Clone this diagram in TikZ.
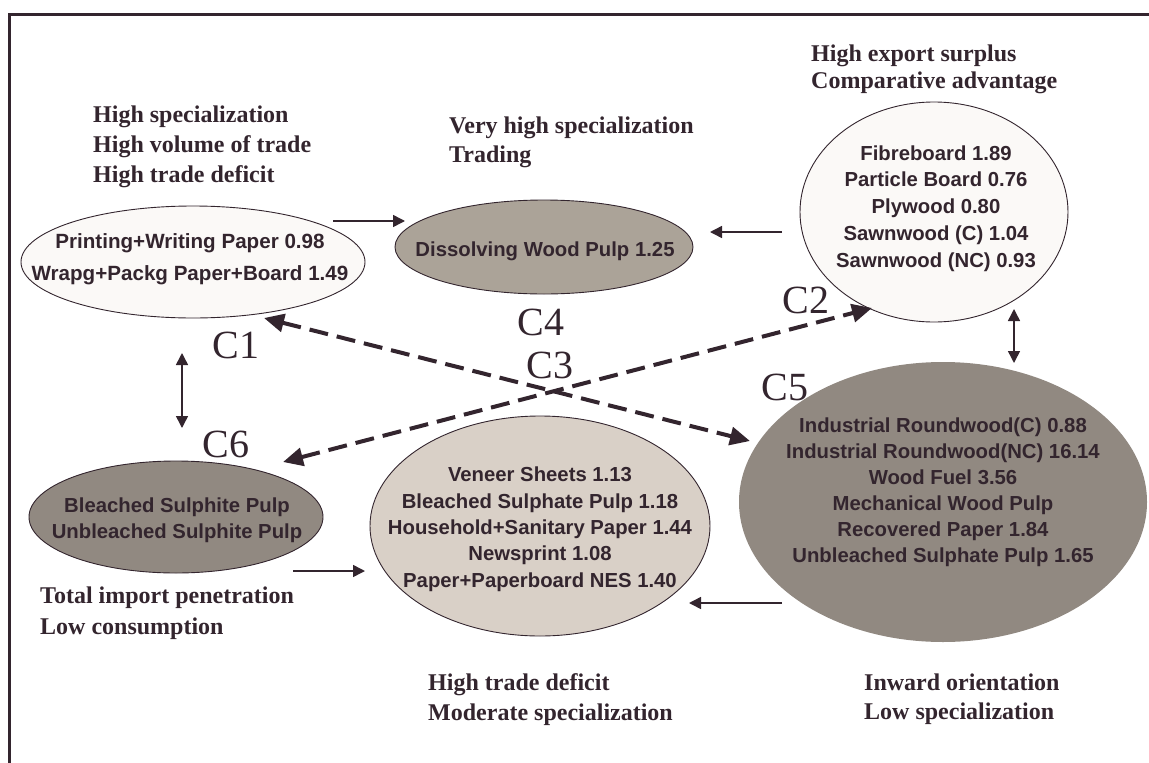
\documentclass[tikz,border=0pt]{standalone}
\usepackage{fontspec}
\setmainfont{Liberation Serif}
\newfontfamily\arialb{Liberation Sans}[BoldFont={* Bold}]
\usetikzlibrary{shapes.geometric,arrows.meta}
\definecolor{ink}{RGB}{51,37,46}
\definecolor{whitefill}{RGB}{251,249,247}
\definecolor{taupe}{RGB}{171,163,152}
\definecolor{beige}{RGB}{217,208,199}
\definecolor{greyb}{RGB}{145,137,129}
\tikzset{
  ell/.style={ellipse, draw=ink, line width=0.9pt, inner sep=0pt},
  lbl/.style={font=\bfseries\fontsize{24}{29.5}\selectfont, text=ink, align=left, anchor=base west, inner sep=0pt},
  itm/.style={font=\arialb\bfseries\fontsize{20.3}{26.3}\selectfont, text=ink, align=center, anchor=base, inner sep=0pt},
  cl/.style={font=\fontsize{40}{40}\selectfont, text=ink, anchor=base, inner sep=0pt},
  sarrow/.style={draw=ink, line width=1.5pt, -{Triangle[length=12pt,width=12pt]}},
  darrow/.style={draw=ink, line width=1.5pt, {Triangle[length=12pt,width=12pt]}-{Triangle[length=12pt,width=12pt]}},
  dasharrow/.style={draw=ink, line width=4pt, dash pattern=on 19pt off 9pt, {Triangle[length=20pt,width=18pt]}-{Triangle[length=20pt,width=18pt]}}
}
\begin{document}
\begin{tikzpicture}[x=1pt,y=-1pt]
\useasboundingbox (0,0) rectangle (1149,763);
% frame
\draw[ink, line width=3.8pt] (9.5,763) -- (9.5,14.5) -- (1149,14.5);

% ellipses
\node[ell, fill=whitefill, minimum width=344pt, minimum height=112pt] (c1) at (193,262) {};
\node[ell, fill=taupe, minimum width=298pt, minimum height=94pt] (c4) at (544,247) {};
\node[ell, fill=whitefill, minimum width=268pt, minimum height=220pt] (c2) at (934,212) {};
\node[ell, draw=none, fill=greyb, minimum width=408pt, minimum height=280pt] (c5) at (943,502) {};
\node[ell, fill=beige, minimum width=340pt, minimum height=220pt] (c3) at (540,526) {};
\node[ell, fill=greyb, minimum width=294pt, minimum height=112pt] (c6) at (176,517) {};

% ellipse contents (anchor = baseline of last line)
\node[itm, font=\arialb\bfseries\fontsize{20.6}{32}\selectfont] (t1) at (190,280) {Printing+Writing Paper 0.98\\Wrapg+Packg Paper+Board 1.49};
\node[itm] (t4) at (545,256) {Dissolving Wood Pulp 1.25};
\node[itm, font=\arialb\bfseries\fontsize{20.3}{26.7}\selectfont] (t2) at (936,267) {Fibreboard 1.89\\Particle Board 0.76\\Plywood 0.80\\Sawnwood (C) 1.04\\Sawnwood (NC) 0.93};
\node[itm] (t3) at (540,587) {Veneer Sheets 1.13\\Bleached Sulphate Pulp 1.18\\Household+Sanitary Paper 1.44\\Newsprint 1.08\\Paper+Paperboard NES 1.40};
\node[itm, font=\arialb\bfseries\fontsize{20.3}{26}\selectfont] (t5) at (943,562) {Industrial Roundwood(C) 0.88\\Industrial Roundwood(NC) 16.14\\Wood Fuel 3.56\\Mechanical Wood Pulp\\Recovered Paper 1.84\\Unbleached Sulphate Pulp 1.65};
\node[itm, font=\arialb\bfseries\fontsize{20.3}{26}\selectfont] (t6) at (177,538) {Bleached Sulphite Pulp\\Unbleached Sulphite Pulp};

% descriptive labels (anchor = baseline of last line)
\node[lbl, font=\bfseries\fontsize{24}{30}\selectfont] (l1) at (93,182) {High specialization\\High volume of trade\\High trade deficit};
\node[lbl, font=\bfseries\fontsize{24}{29}\selectfont] (l4) at (449,162) {Very high specialization\\Trading};
\node[lbl, font=\bfseries\fontsize{24}{27}\selectfont] (l2) at (811,88) {High export surplus\\Comparative advantage};
\node[lbl, font=\bfseries\fontsize{24}{31}\selectfont] (l6) at (40,634) {Total import penetration\\Low consumption};
\node[lbl, font=\bfseries\fontsize{24}{30}\selectfont] (l3) at (428,720) {High trade deficit\\Moderate specialization};
\node[lbl, font=\bfseries\fontsize{24}{29}\selectfont] (l5) at (864,719) {Inward orientation\\Low specialization};

% cluster labels
\node[cl] (k1) at (236,358) {C1};
\node[cl] (k6) at (226,457) {C6};
\node[cl] (k4) at (541,335) {C4};
\node[cl] (k3) at (550,378) {C3};
\node[cl] (k2) at (806,313) {C2};
\node[cl] (k5) at (785,400) {C5};

% connector end points
\coordinate (a1s) at (333,221);  \coordinate (a1e) at (405,221);
\coordinate (a2s) at (782,232);  \coordinate (a2e) at (710,232);
\coordinate (a3s) at (182,353);  \coordinate (a3e) at (182,428);
\coordinate (a4s) at (293,571);  \coordinate (a4e) at (365,571);
\coordinate (a5s) at (782,603);  \coordinate (a5e) at (689,603);
\coordinate (a6s) at (1014,309); \coordinate (a6e) at (1014,363);
\coordinate (d1s) at (264,318);  \coordinate (d1e) at (750,441);
\coordinate (d2s) at (283,462);  \coordinate (d2e) at (872,308);

% solid arrows
\draw[sarrow] (a1s) -- (a1e);
\draw[sarrow] (a2s) -- (a2e);
\draw[darrow] (a3s) -- (a3e);
\draw[sarrow] (a4s) -- (a4e);
\draw[sarrow] (a5s) -- (a5e);
\draw[darrow] (a6s) -- (a6e);

% dashed arrows
\draw[dasharrow] (d1s) -- (d1e);
\draw[dasharrow] (d2s) -- (d2e);
\end{tikzpicture}
\end{document}
